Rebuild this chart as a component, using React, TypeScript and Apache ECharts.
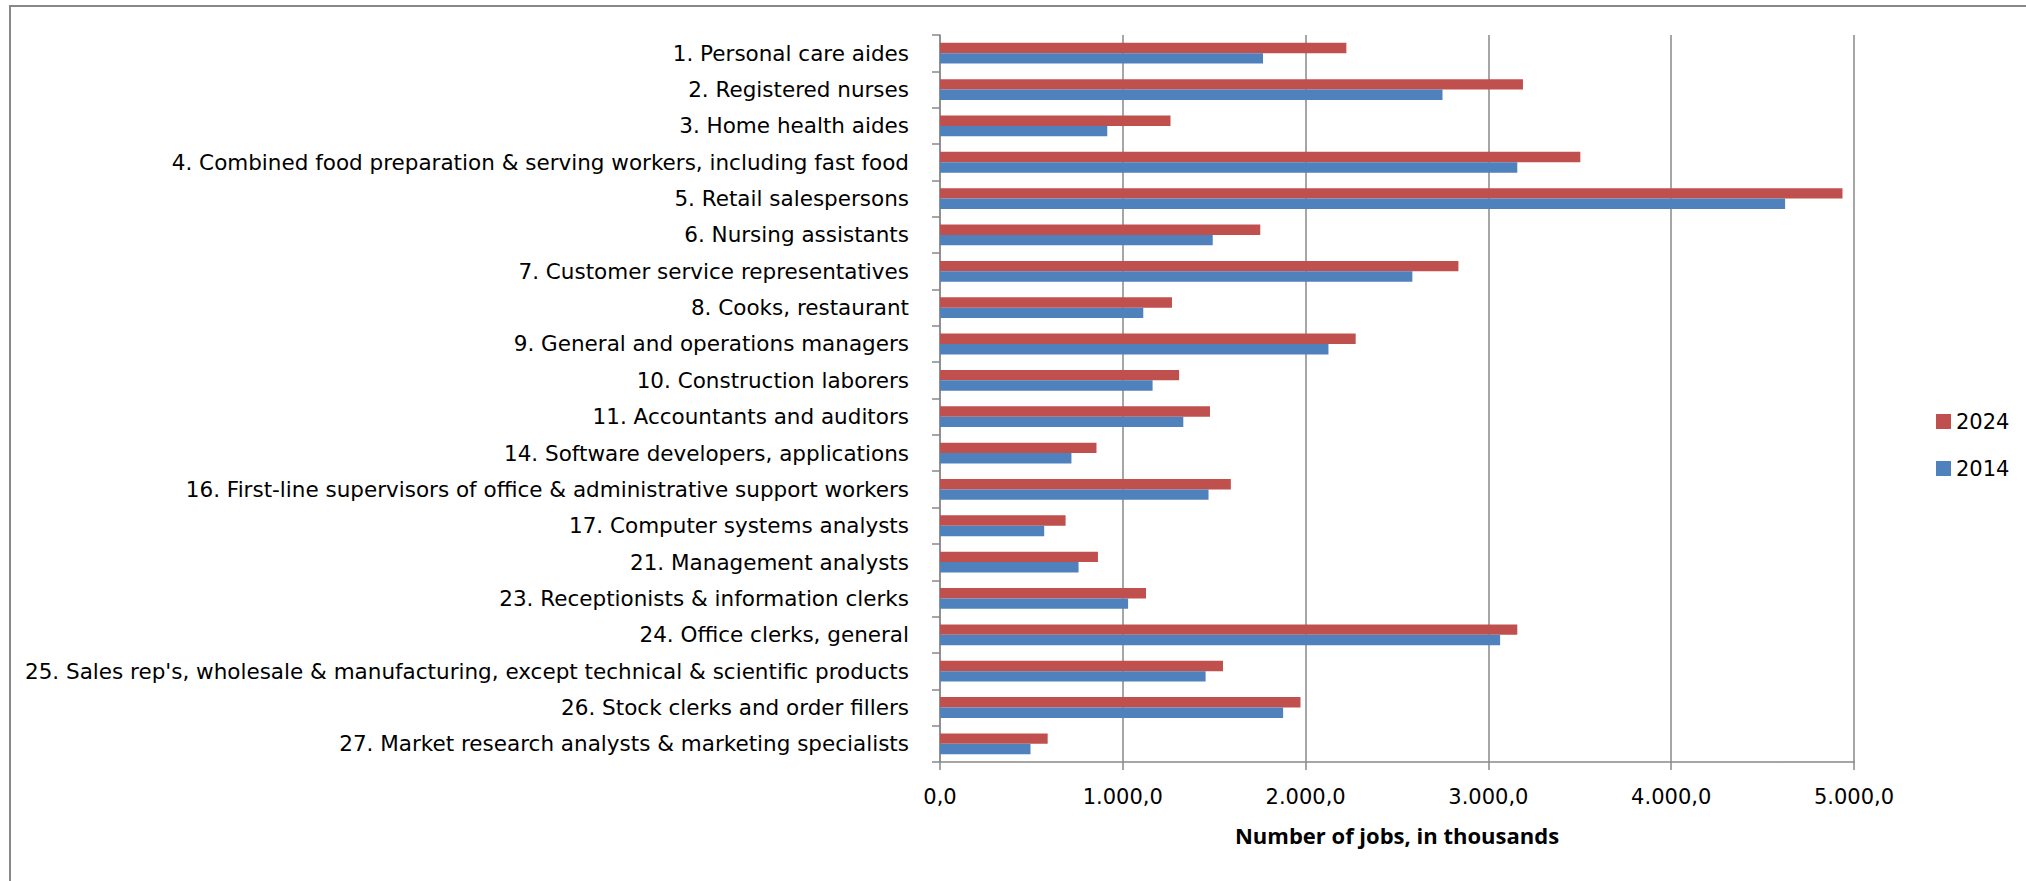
import React, { useEffect, useRef } from "react";
import * as echarts from "echarts";

const categories = [
  "1. Personal care aides",
  "2. Registered nurses",
  "3. Home health aides",
  "4. Combined food preparation & serving workers, including fast food",
  "5. Retail salespersons",
  "6. Nursing assistants",
  "7. Customer service representatives",
  "8. Cooks, restaurant",
  "9. General and operations managers",
  "10. Construction laborers",
  "11. Accountants and auditors",
  "14. Software developers, applications",
  "16. First-line supervisors of office & administrative support workers",
  "17. Computer systems analysts",
  "21. Management analysts",
  "23. Receptionists & information clerks",
  "24. Office clerks, general",
  "25. Sales rep's, wholesale & manufacturing, except technical & scientific products",
  "26. Stock clerks and order fillers",
  "27. Market research analysts & marketing specialists",
];

const jobs2024 = [2223, 3189, 1261, 3503, 4937, 1752, 2836, 1269, 2274, 1308, 1477, 856, 1591, 687, 864, 1127, 3158, 1548, 1972, 589];
const jobs2014 = [1767, 2749, 915, 3158, 4623, 1492, 2584, 1112, 2125, 1163, 1331, 719, 1469, 570, 758, 1029, 3064, 1453, 1877, 495];

const seriesNames = ["2024", "2014"];
const axisTitle = "Number of jobs, in thousands";
const xMin = 0;
const xMax = 5000;
const xStep = 1000;

const FONT = "DejaVu Sans";
const GRAY = "#888888";

function formatNumber(v: number): string {
  const fixed = (Math.round(v * 10) / 10).toFixed(1);
  const [intPart, dec] = fixed.split(".");
  const withDots = intPart.replace(/\B(?=(\d{3})+(?!\d))/g, ".");
  return withDots + "," + dec;
}

export default function App() {
  const ref = useRef<HTMLDivElement>(null);

  useEffect(() => {
    if (!ref.current) return;
    const chart = echarts.init(ref.current, undefined, { renderer: "svg" });
    chart.setOption({
      animation: false,
      backgroundColor: "#ffffff",
      graphic: [
        {
          type: "rect",
          shape: { x: 10, y: 6, width: 2100, height: 1000 },
          style: { fill: "none", stroke: GRAY, lineWidth: 2 },
          silent: true,
        },
      ],
      legend: {
        orient: "vertical",
        left: 1936,
        top: 411,
        padding: 0,
        itemWidth: 15,
        itemHeight: 15,
        itemGap: 26,
        icon: "rect",
        data: seriesNames,
        textStyle: { fontFamily: FONT, fontSize: 21, color: "#000", lineHeight: 21 },
      },
      grid: {
        left: 940,
        right: 172,
        top: 35,
        bottom: 119,
        outerBoundsMode: "none",
        containLabel: false,
      },
      xAxis: {
        type: "value",
        min: xMin,
        max: xMax,
        interval: xStep,
        name: axisTitle,
        nameLocation: "middle",
        nameGap: 62,
        nameTextStyle: {
          fontFamily: "Open Sans",
          fontWeight: "bold",
          fontSize: 22,
          color: "#000",
        },
        axisLine: { show: true, lineStyle: { color: GRAY, width: 1.5 } },
        axisTick: { show: true, length: 8, lineStyle: { color: GRAY, width: 1.5 } },
        splitLine: { show: true, lineStyle: { color: GRAY, width: 1.5 } },
        axisLabel: {
          fontFamily: FONT,
          fontSize: 21,
          color: "#000",
          margin: 24,
          formatter: (v: number) => formatNumber(v),
        },
      },
      yAxis: {
        type: "category",
        inverse: true,
        data: categories,
        axisLine: { show: true, lineStyle: { color: GRAY, width: 1.5 } },
        axisTick: { show: true, length: 8, lineStyle: { color: GRAY, width: 1.5 } },
        splitLine: { show: false },
        axisLabel: {
          fontFamily: FONT,
          fontSize: 21.5,
          color: "#000",
          margin: 31,
        },
      },
      series: [
        {
          name: seriesNames[0],
          type: "bar",
          data: jobs2024,
          barWidth: 10.4,
          barGap: "0%",
          itemStyle: { color: "#C0504D" },
        },
        {
          name: seriesNames[1],
          type: "bar",
          data: jobs2014,
          barWidth: 10.4,
          barGap: "0%",
          itemStyle: { color: "#4F81BD" },
        },
      ],
    });
    return () => chart.dispose();
  }, []);

  return (
    <div
      ref={ref}
      style={{ position: "absolute", left: 0, top: 0, width: 2026, height: 881 }}
    />
  );
}
